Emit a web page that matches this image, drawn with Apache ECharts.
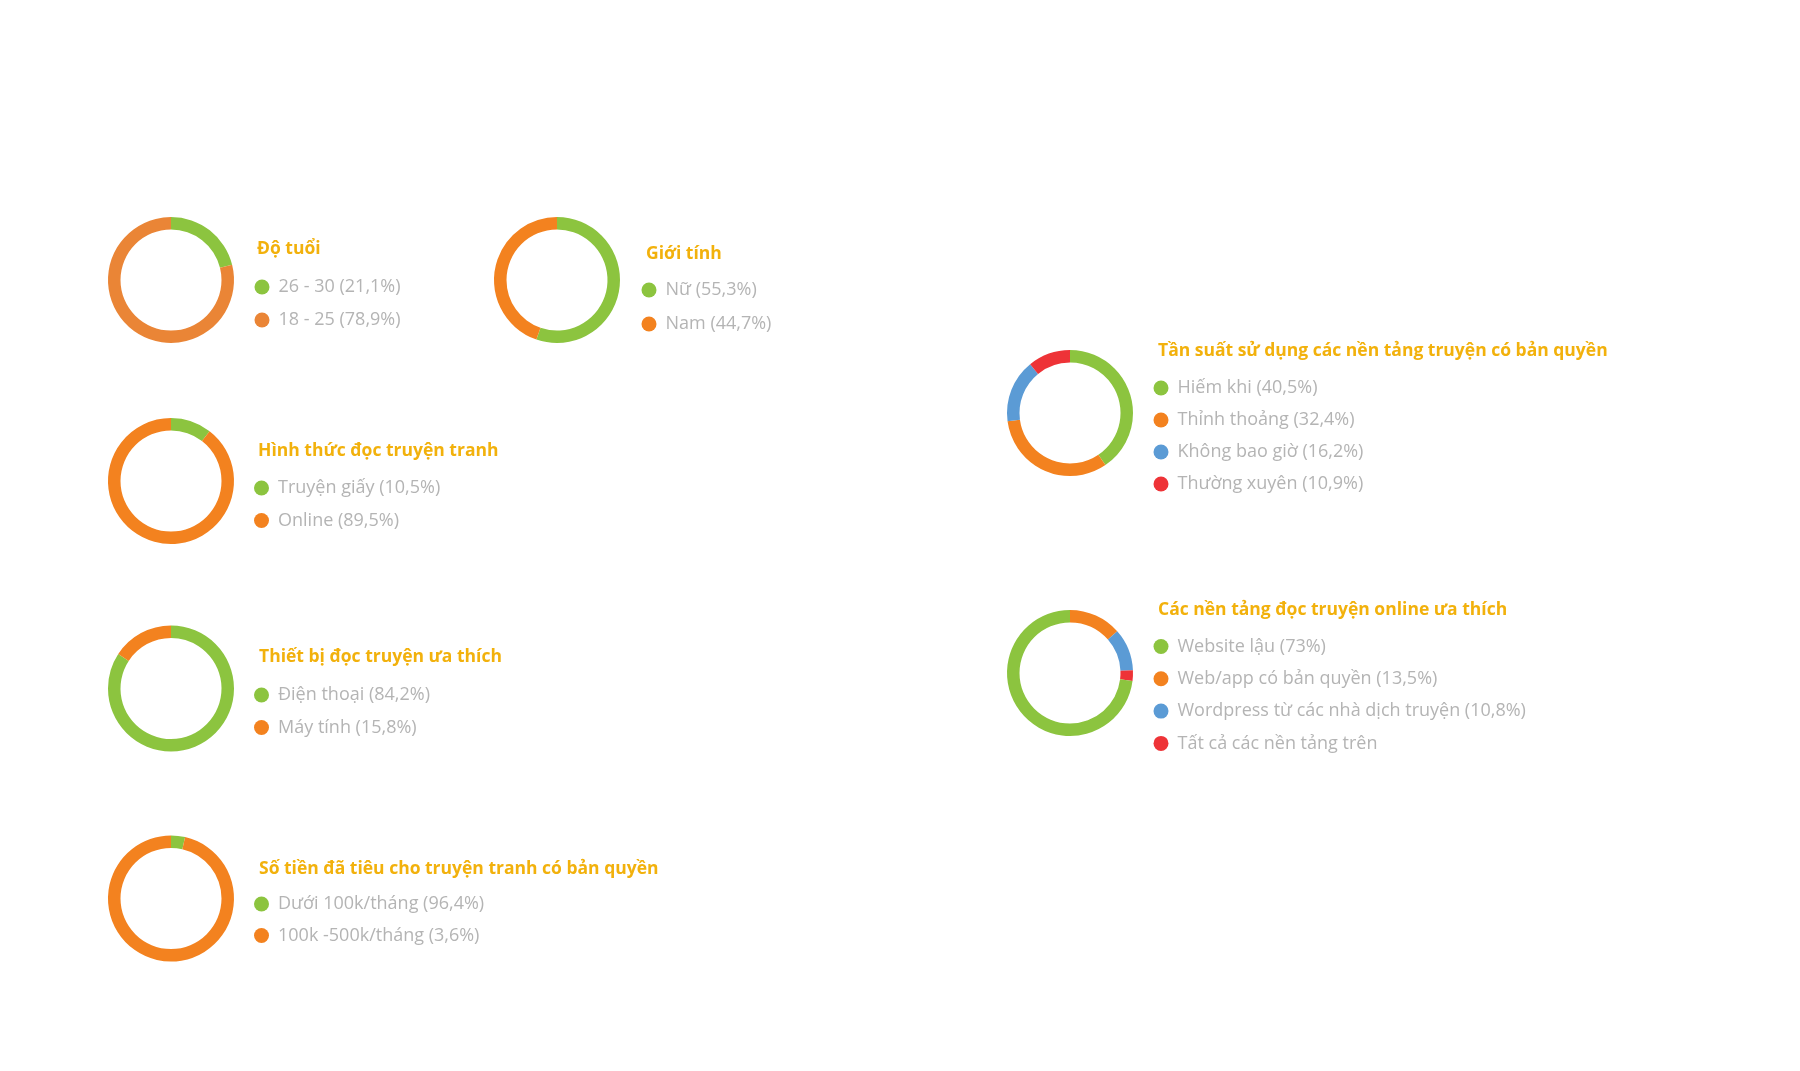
<!DOCTYPE html>
<html>
<head>
<meta charset="utf-8">
<style>
  html, body { margin: 0; padding: 0; background: #ffffff; }
  #chart { width: 1800px; height: 1071px; }
</style>
<script src="https://cdn.jsdelivr.net/npm/echarts@6/dist/echarts.min.js"></script>
</head>
<body>
<div id="chart"></div>
<script>
// ---- Data ----
const titles = [
  'Độ tuổi',
  'Giới tính',
  'Hình thức đọc truyện tranh',
  'Thiết bị đọc truyện ưa thích',
  'Số tiền đã tiêu cho truyện tranh có bản quyền',
  'Tần suất sử dụng các nền tảng truyện có bản quyền',
  'Các nền tảng đọc truyện online ưa thích'
];

const ageNames = ['26 - 30 (21,1%)', '18 - 25 (78,9%)'];
const ageValues = [21.1, 78.9];

const genderNames = ['Nữ (55,3%)', 'Nam (44,7%)'];
const genderValues = [55.3, 44.7];

const formNames = ['Truyện giấy (10,5%)', 'Online (89,5%)'];
const formValues = [10.5, 89.5];

const deviceNames = ['Điện thoại (84,2%)', 'Máy tính (15,8%)'];
const deviceValues = [84.2, 15.8];

// The ring in the picture shows a small green slice and a large orange one
const spendNames = ['Dưới 100k/tháng (96,4%)', '100k -500k/tháng (3,6%)'];
const spendValues = [3.6, 96.4];

const freqNames = ['Hiếm khi (40,5%)', 'Thỉnh thoảng (32,4%)', 'Không bao giờ (16,2%)', 'Thường xuyên (10,9%)'];
const freqValues = [40.5, 32.4, 16.2, 10.9];

// legend order
const platNames = ['Website lậu (73%)', 'Web/app có bản quyền (13,5%)', 'Wordpress từ các nhà dịch truyện (10,8%)', 'Tất cả các nền tảng trên'];
const platValues = [73, 13.5, 10.8, 2.7];
// drawing order clockwise from the top, as in the picture (indices into platNames)
const platDrawOrder = [1, 2, 3, 0];

// ---- Styles ----
const GREEN = '#8cc43f', ORANGE = '#f3821f', BLUE = '#5b9bd5', RED = '#ee3337';
const palette = [GREEN, ORANGE, BLUE, RED];
const TITLE_COLOR = '#f2b10c';
const TEXT_COLOR = '#b4b4b4';
const FONT = '"Open Sans", Roboto, sans-serif';

function items(names, values, order, colors) {
  const idx = order || names.map((_, i) => i);
  const pal = colors || palette;
  return idx.map(i => ({ name: names[i], value: values[i], itemStyle: { color: pal[i] } }));
}

const charts = [
  { names: ageNames,    values: ageValues,    center: [171, 280],  title: [257, 240],  legend: [254.5, 278], gap: 15, colors: [GREEN, '#ea8536'] },
  { names: genderNames, values: genderValues, center: [557, 280],  title: [646, 245],  legend: [641.5, 281], gap: 16 },
  { names: formNames,   values: formValues,   center: [171, 481],  title: [258, 442],  legend: [254, 479],   gap: 14.5 },
  { names: deviceNames, values: deviceValues, center: [171, 688.5],title: [259, 648],  legend: [254, 686],   gap: 14.5 },
  { names: spendNames,  values: spendValues,  center: [171, 898.5],title: [259, 860],  legend: [254, 895],   gap: 13.5 },
  { names: freqNames,   values: freqValues,   center: [1070, 413], title: [1158, 342], legend: [1153.5, 379], gap: 14 },
  { names: platNames,   values: platValues,   center: [1070, 673], title: [1158, 601], legend: [1153.5, 637.5], gap: 14.3, order: platDrawOrder }
];

const option = {
  backgroundColor: '#ffffff',
  animation: false,
  title: charts.map((c, i) => ({
    text: titles[i],
    left: c.title[0], top: c.title[1], padding: 0,
    textStyle: { fontFamily: FONT, fontSize: 17.5, fontWeight: 'bold', color: TITLE_COLOR, lineHeight: 18 }
  })),
  legend: charts.map((c, i) => ({
    orient: 'vertical',
    left: c.legend[0], top: c.legend[1], padding: 0,
    icon: 'circle', itemWidth: 15, itemHeight: 15, itemGap: c.gap,
    selectedMode: false,
    data: c.names,
    textStyle: { fontFamily: FONT, fontSize: 18, color: TEXT_COLOR, lineHeight: 15, padding: [0, 0, 0, 4] }
  })),
  series: charts.map((c, i) => ({
    type: 'pie',
    name: titles[i],
    center: c.center,
    radius: [50.5, 63],
    startAngle: 90,
    clockwise: true,
    silent: true,
    label: { show: false },
    labelLine: { show: false },
    itemStyle: { borderWidth: 0 },
    data: items(c.names, c.values, c.order, c.colors)
  }))
};

const chart = echarts.init(document.getElementById('chart'), null, { renderer: 'canvas' });
chart.setOption(option);
</script>
</body>
</html>
